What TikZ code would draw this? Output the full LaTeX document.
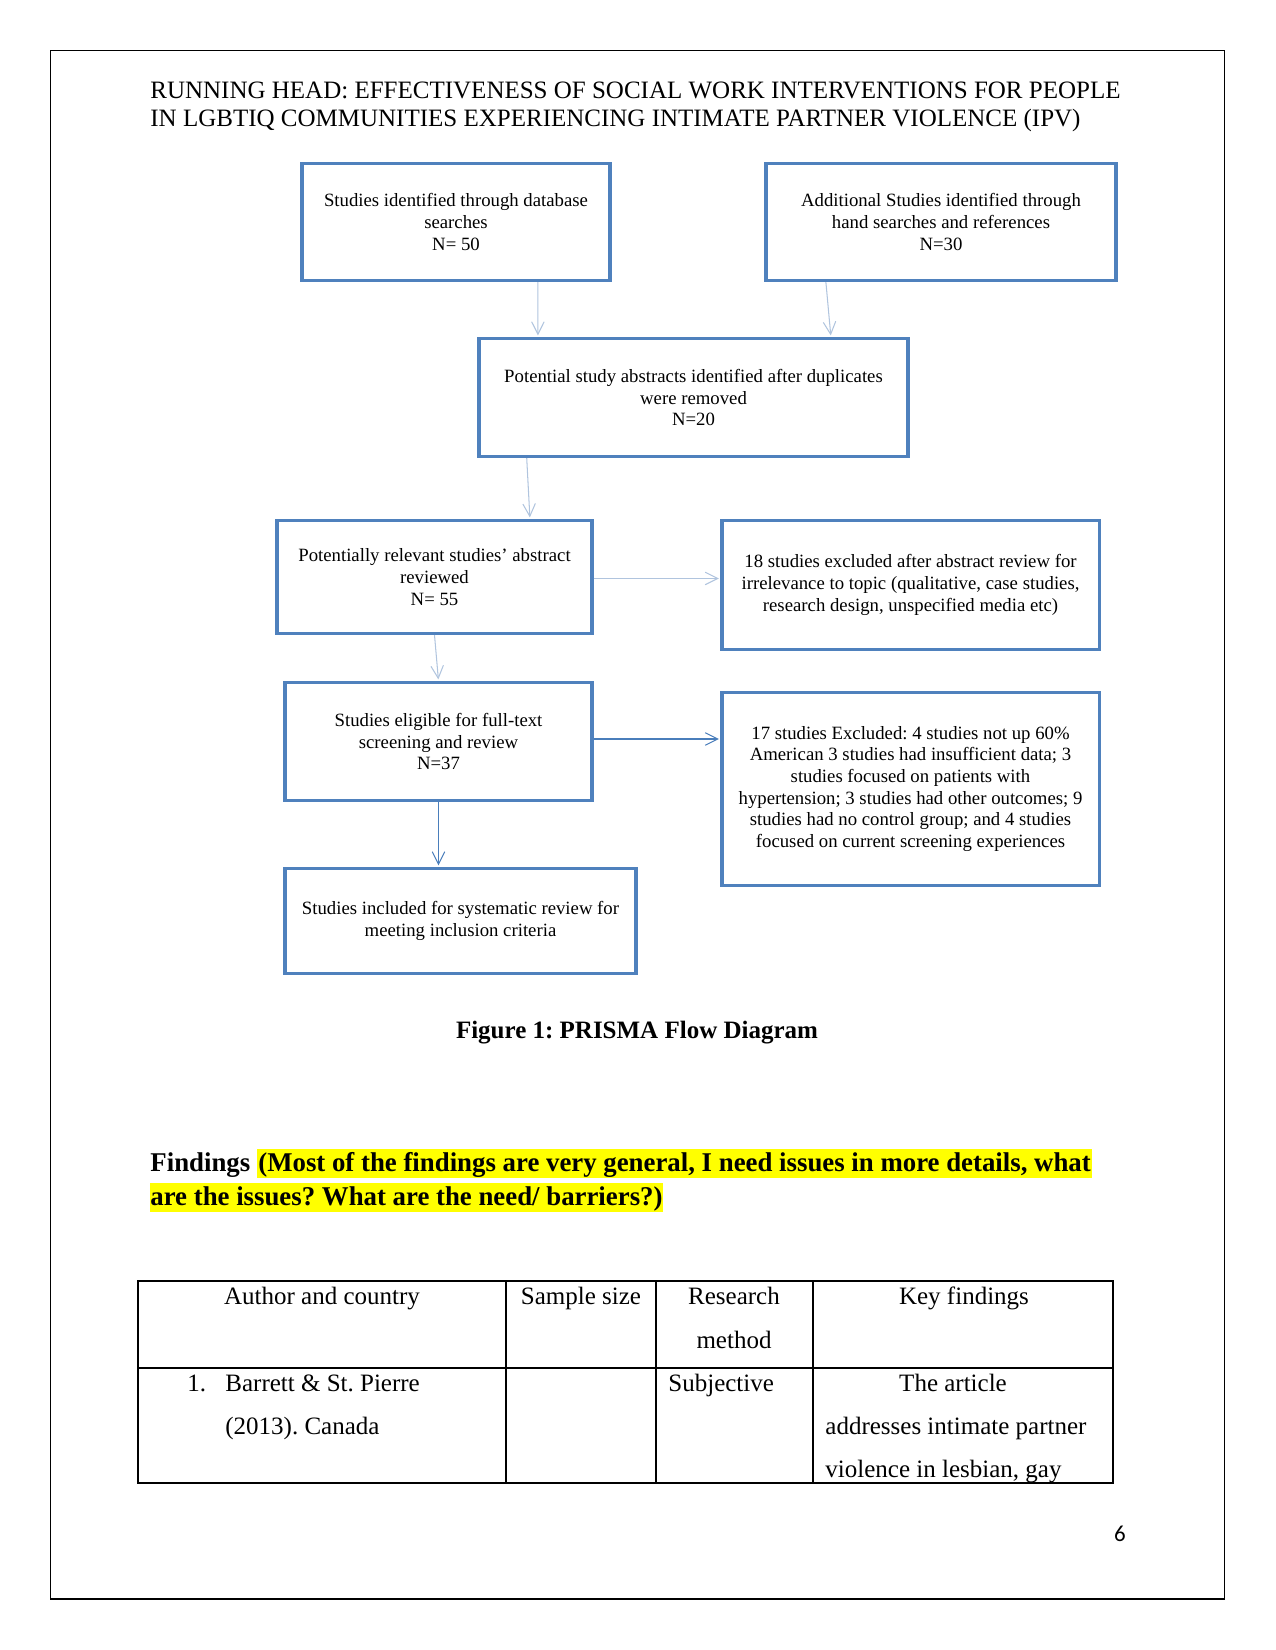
\documentclass[tikz,border=0pt]{standalone}
\usepackage{fontspec}
\setmainfont{Liberation Serif}
\newfontfamily\headfont[FakeStretch=0.99]{Liberation Serif}
\newfontfamily\pagefont{Carlito}
\usetikzlibrary{arrows.meta, positioning, calc}
\definecolor{cBoxBlue}{RGB}{79,129,189}
\definecolor{cArrowPale}{RGB}{176,196,222}
\definecolor{cArrowBlue}{RGB}{74,126,187}
\definecolor{cHighlight}{RGB}{255,255,0}
\frenchspacing

\begin{document}
\begin{tikzpicture}[x=0.48pt, y=-0.48pt,
  every node/.style={font=\fontsize{12}{14}\selectfont, inner sep=0pt},
  flowbox/.style={draw=cBoxBlue, line width=1.5pt, align=center, font=\fontsize{9}{10.4}\selectfont},
  paleflow/.style={draw=cArrowPale, line width=0.5pt, shorten >=0.75pt, -{Straight Barb[length=6pt,width=6pt]}},
  blueflow/.style={paleflow, draw=cArrowBlue},
  findtxt/.style={font=\headfont\bfseries\fontsize{13}{16}\selectfont, text height=10.5pt, text depth=3.3pt},
  hl/.style={fill=cHighlight}]
\useasboundingbox (0,0) rectangle (1275,1650);
\draw[line width=0.6pt] (50.5,50.5) rectangle (1224.5,1599);

% running head
\node[anchor=base west] (head1) at (150,99) {RUNNING HEAD: EFFECTIVENESS OF SOCIAL WORK INTERVENTIONS FOR PEOPLE};
\node[anchor=base west] (head2) at (150,127) {IN LGBTIQ COMMUNITIES EXPERIENCING INTIMATE PARTNER VIOLENCE (IPV)};

% flow boxes
\node[flowbox, minimum width=147.8pt, minimum height=56.2pt] (dbase) at (456,222) {Studies identified through database\\searches\\N= 50};
\node[flowbox, minimum width=168pt, minimum height=56.2pt] (hand) at (941,222) {Additional Studies identified through\\hand searches and references\\N=30};
\node[flowbox, minimum width=205.9pt, minimum height=56.6pt] (dedup) at (693.5,397.5) {Potential study abstracts identified after duplicates\\were removed\\N=20};
\node[flowbox, minimum width=151.2pt, minimum height=54.2pt] (abstr) at (434.5,577) {Potentially relevant studies’ abstract\\reviewed\\N= 55};
\node[flowbox, minimum width=181pt, minimum height=61.9pt] (excl1) at (910.5,585) {18 studies excluded after abstract review for\\irrelevance to topic (qualitative, case studies,\\research design, unspecified media etc)};
\node[flowbox, minimum width=147.4pt, minimum height=56.6pt] (fulltxt) at (438.5,741.5) {Studies eligible for full-text\\screening and review\\N=37};
\node[flowbox, minimum width=181pt, minimum height=92.6pt] (excl2) at (910.5,789) {17 studies Excluded: 4 studies not up 60\%\\American 3 studies had insufficient data; 3\\studies focused on patients with\\hypertension; 3 studies had other outcomes; 9\\studies had no control group; and 4 studies\\focused on current screening experiences};
\node[flowbox, minimum width=168.5pt, minimum height=50.4pt] (incl) at (460.5,921) {Studies included for systematic review for\\meeting inclusion criteria};

% connectors
\draw[paleflow] ($(dbase.south west)!0.763!(dbase.south east)$) -- ($(dedup.north west)!0.14!(dedup.north east)$);
\draw[paleflow] ($(hand.south west)!0.174!(hand.south east)$) -- ($(dedup.north west)!0.818!(dedup.north east)$);
\draw[paleflow] ($(dedup.south west)!0.114!(dedup.south east)$) -- ($(abstr.north west)!0.8!(abstr.north east)$);
\draw[paleflow] ([yshift=-0.7pt]abstr.east) -- ([yshift=-0.7pt]abstr.east -| excl1.west);
\draw[paleflow] (abstr.south) -- (fulltxt.north);
\draw[blueflow] ([yshift=1.2pt]fulltxt.east) -- ([yshift=1.2pt]fulltxt.east -| excl2.west);
\draw[blueflow] (fulltxt.south) -- (fulltxt.south |- incl.north);

\node[font=\bfseries\fontsize{12}{14}\selectfont, anchor=base] (caption) at (637,1038) {Figure 1: PRISMA Flow Diagram};

% findings heading
\node[findtxt, anchor=base west] (findhead) at (150,1171) {Findings};
\node[findtxt, hl, anchor=base west, inner xsep=0.5pt] (findnote1) at ([xshift=3pt]findhead.base east) {(Most of the findings are very general, I need issues in more details, what};
\node[findtxt, hl, anchor=base west] (findnote2) at (150,1205) {are the issues? What are the need/ barriers?)};

% table
\draw[line width=0.5pt] (138,1281) rectangle (1113,1483);
\draw[line width=0.5pt] (138,1368) -- (1113,1368);
\foreach \colx in {506,656,813}
  \draw[line width=0.5pt] (\colx,1281) -- (\colx,1483);
\node[anchor=base] (authorhd) at (322,1304) {Author and country};
\node[anchor=base] (samplehd) at (581,1304) {Sample size};
\node[anchor=base] (methodhd) at (734,1304) {Research};
\node[anchor=base] (methodhd2) at (734,1348) {method};
\node[anchor=base] (keyhd) at (964,1304) {Key findings};
\node[anchor=base west] (rownum) at (187,1391) {1.};
\node[anchor=base west] (author1) at (225,1391) {Barrett \& St. Pierre};
\node[anchor=base west] (author2) at (225,1434) {(2013). Canada};
\node[anchor=base west] (method1) at (668,1391) {Subjective};
\node[anchor=base] (key1) at (953,1391) {The article};
\node[anchor=base west] (key2) at (825,1434) {addresses intimate partner};
\node[anchor=base west] (key3) at (825,1477) {violence in lesbian, gay};

\node[font=\pagefont\fontsize{11}{13}\selectfont, anchor=base] (pagenum) at (1120,1541) {6};
\end{tikzpicture}
\end{document}
